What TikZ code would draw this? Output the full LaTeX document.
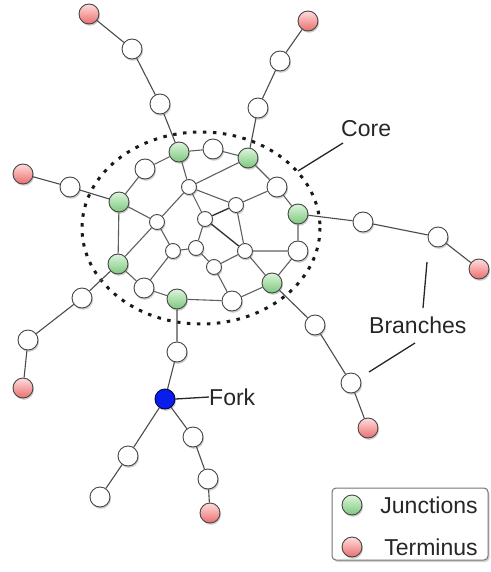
\documentclass[tikz,border=0pt]{standalone}
\usepackage{fontspec}
\setmainfont{Liberation Sans}
\usetikzlibrary{shadows}
\definecolor{jgreen}{RGB}{125,200,125}
\definecolor{jgreenl}{RGB}{220,245,220}
\definecolor{tred}{RGB}{235,110,110}
\definecolor{tredl}{RGB}{255,220,220}
\definecolor{fblue}{RGB}{10,30,235}
\definecolor{edgec}{RGB}{95,95,95}
\definecolor{rimc}{RGB}{70,70,70}
\tikzset{
  base/.style={circle, inner sep=0pt, draw=rimc, line width=0.9pt,
    drop shadow={opacity=0.4, shadow xshift=1pt, shadow yshift=-1.8pt}},
  wn/.style={base, minimum size=20pt, fill=white},
  ws/.style={base, minimum size=15pt, fill=white},
  jn/.style={base, minimum size=20pt, top color=jgreenl, bottom color=jgreen},
  tn/.style={base, minimum size=20pt, top color=tredl, bottom color=tred},
  fk/.style={base, minimum size=20pt, fill=fblue, draw=black!70!blue},
  ce/.style={draw=edgec, line width=1.1pt},
  be/.style={draw=black!70, line width=1.1pt},
  lbl/.style={font=\fontsize{23}{26}\selectfont, text=black!85, inner sep=0pt},
  pointer/.style={draw=black!85, line width=1.3pt},
}
\begin{document}
\begin{tikzpicture}[x=1pt,y=-1pt]
\useasboundingbox (0,0) rectangle (490,572);
% core boundary
\draw[line width=3pt, dash pattern=on 3.5pt off 6.5pt, black!90] (201,228) ellipse [x radius=119, y radius=96];
% core nodes
\node[jn] (J1) at (179,152) {};
\node[wn] (A) at (213,149) {};
\node[jn] (J2) at (248,158) {};
\node[wn] (B) at (145,169) {};
\node[ws] (C) at (189,187) {};
\node[jn] (J3) at (119,202) {};
\node[wn] (D) at (277,187) {};
\node[jn] (J4) at (298,214) {};
\node[ws] (E) at (236,205) {};
\node[ws] (F) at (205,219) {};
\node[ws] (G) at (157,222) {};
\node[jn] (J5) at (118,264) {};
\node[ws] (H) at (173,251) {};
\node[ws] (I) at (196,248) {};
\node[ws] (K) at (245,251) {};
\node[wn] (L) at (298,251) {};
\node[ws] (M) at (214,267) {};
\node[wn] (N) at (144,288) {};
\node[jn] (J6) at (177,299) {};
\node[wn] (O) at (232,301) {};
\node[jn] (J7) at (272,283) {};
% core edges
\path[ce] (J1)--(A) (A)--(J2) (J1)--(B) (B)--(J3) (J1)--(C) (C)--(J2)
  (C)--(G) (C)--(E) (C)--(F) (J2)--(D) (D)--(E) (D)--(J4) (J4)--(L)
  (L)--(K) (L)--(J7) (E)--(K) (K)--(J7) (K)--(M) (M)--(O) (O)--(J7)
  (O)--(J6) (J6)--(N) (N)--(J5) (J5)--(J3) (J3)--(G) (G)--(J5) (G)--(H)
  (H)--(N) (H)--(I) (I)--(M) (I)--(F);
\path[ce, line width=1.4pt, draw=black!80] (F)--(E) (F)--(K);
% branches
\node[tn] (T1) at (89,14) {};
\node[wn] (b1a) at (132,49) {};
\node[wn] (b1b) at (160,104) {};
\node[tn] (T2) at (308,21) {};
\node[wn] (b2a) at (280,61) {};
\node[wn] (b2b) at (258,108) {};
\node[tn] (T3) at (23,174) {};
\node[wn] (b3a) at (70,187) {};
\node[wn] (b5a) at (82,298) {};
\node[wn] (b5b) at (28,340) {};
\node[tn] (T5) at (23,388) {};
\node[wn] (b4a) at (363,222) {};
\node[wn] (b4b) at (438,237) {};
\node[tn] (T4) at (479,269) {};
\node[wn] (b7a) at (315,325) {};
\node[wn] (b7b) at (351,383) {};
\node[tn] (T7) at (368,428) {};
\node[wn] (b6a) at (177,352) {};
\node[fk] (FK) at (165,399) {};
\node[wn] (f1) at (193,437) {};
\node[wn] (f2) at (208,479) {};
\node[tn] (T6) at (210,513) {};
\node[wn] (f3) at (128,456) {};
\node[wn] (f4) at (100,497) {};
\path[be] (T1)--(b1a) (b1a)--(b1b) (b1b)--(J1)
  (T2)--(b2a) (b2a)--(b2b) (b2b)--(J2)
  (T3)--(b3a) (b3a)--(J3)
  (J5)--(b5a) (b5a)--(b5b) (b5b)--(T5)
  (J4)--(b4a) (b4a)--(b4b) (b4b)--(T4)
  (J7)--(b7a) (b7a)--(b7b) (b7b)--(T7)
  (J6)--(b6a) (b6a)--(FK) (FK)--(f1) (f1)--(f2) (f2)--(T6)
  (FK)--(f3) (f3)--(f4);
% labels
\node[lbl, anchor=west] (coreL) at (341,129) {Core};
\coordinate (coreA) at (343,143);
\coordinate (coreB) at (298,171);
\draw[pointer] (coreA)--(coreB);
\node[lbl, anchor=west] (brL) at (369,325) {Branches};
\coordinate (brA1) at (423,308);
\coordinate (brA2) at (427,262);
\coordinate (brB1) at (415,343);
\coordinate (brB2) at (369,372);
\draw[pointer] (brA1)--(brA2);
\draw[pointer] (brB1)--(brB2);
\node[lbl, anchor=west] (forkL) at (209,397) {Fork};
\draw[pointer] (FK.east)--(forkL.west);
% legend
\node[draw=black!55, line width=1pt, rounded corners=4pt, fill=white,
  drop shadow={opacity=0.35, shadow xshift=1.5pt, shadow yshift=-2pt},
  minimum width=156pt, minimum height=72pt, inner sep=0pt] (leg) at (410,524) {};
\node[jn, drop shadow={opacity=0}] (lg1) at (352,505) {};
\node[tn, drop shadow={opacity=0}] (lg2) at (352,547) {};
\node[lbl] (lgt1) at (429,505) {Junctions};
\node[lbl] (lgt2) at (431,547) {Terminus};
\end{tikzpicture}
\end{document}
